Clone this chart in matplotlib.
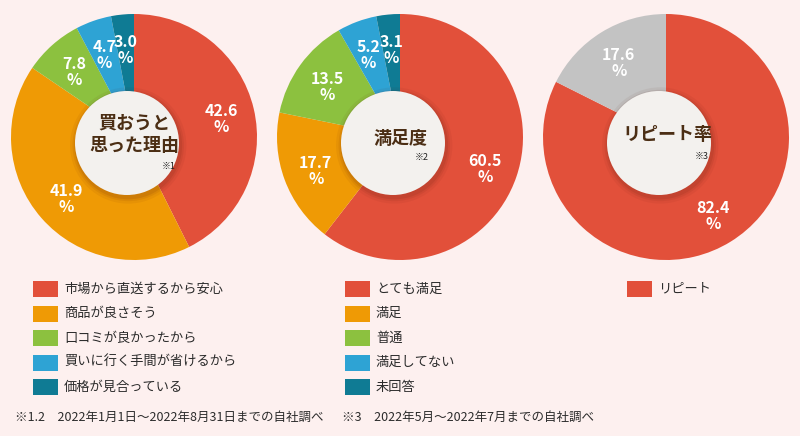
import matplotlib
matplotlib.use("Agg")
import numpy as np
from matplotlib import pyplot as plt
from matplotlib.patches import Circle, Rectangle

plt.rcParams["font.family"] = ["Noto Sans CJK JP", "DejaVu Sans"]

# data
reason_labels = ["市場から直送するから安心", "商品が良さそう", "口コミが良かったから",
                 "買いに行く手間が省けるから", "価格が見合っている"]
reason_values = [42.6, 41.9, 7.8, 4.7, 3.0]

satisf_labels = ["とても満足", "満足", "普通", "満足してない", "未回答"]
satisf_values = [60.5, 17.7, 13.5, 5.2, 3.1]

repeat_labels = ["リピート"]
repeat_values = [82.4, 17.6]

titles = ["買おうと\n思った理由", "満足度", "リピート率"]
notes = ["※1", "※2", "※3"]
footnotes = ["※1.2　2022年1月1日～2022年8月31日までの自社調べ",
             "※3　2022年5月～2022年7月までの自社調べ"]

colors5 = ["#e2503a", "#ef9a05", "#8cc13f", "#2ea3d4", "#0f7b94"]
colors2 = ["#e2503a", "#c3c3c3"]
bg = "#fdf0ef"
brown = "#4b2e14"

W, H = 800, 436
fig = plt.figure(figsize=(W / 100, H / 100), dpi=100, facecolor=bg)

centers = [(134, 137), (400, 137), (666, 137)]
R = 123
charts = [(reason_values, colors5), (satisf_values, colors5), (repeat_values, colors2)]
title_pos = [(0.0, 0.0), (0.0, -0.03), (0.01, 0.0)]
note_pos = [(0.28, -0.24), (0.18, -0.17), (0.29, -0.16)]

for i, ((vals, cols), (cx, cy)) in enumerate(zip(charts, centers)):
    ax = fig.add_axes([(cx - R) / W, 1 - (cy + R) / H, 2 * R / W, 2 * R / H])
    wedges, _ = ax.pie(vals, colors=cols, startangle=90, counterclock=False,
                       radius=1, wedgeprops=dict(linewidth=0))
    ax.set_xlim(-1, 1)
    ax.set_ylim(-1, 1)
    ax.set_aspect("equal")
    ax.axis("off")
    # percentage labels
    cum = np.cumsum([0] + list(vals))
    for k, v in enumerate(vals):
        mid = (cum[k] + v / 2) / 100 * 2 * np.pi
        r = 0.73
        ax.text(r * np.sin(mid), r * np.cos(mid) - 0.02, f"{v:.1f}\n%",
                ha="center", va="center", color="white", fontsize=11.5,
                fontweight="bold", linespacing=1.0)
    # inner white disc with soft shadow
    ox, oy, rr = -7 / R, -6 / R, 52 / R
    for s, a in [(0.05, 0.06), (0.03, 0.08), (0.015, 0.1)]:
        ax.add_patch(Circle((ox + 0.01, oy - 0.02), rr + s, color="#5a1a10",
                            alpha=a, linewidth=0, zorder=3))
    ax.add_patch(Circle((ox, oy), rr, color="#f3f1ee", linewidth=0, zorder=4))
    tx, ty = title_pos[i]
    ax.text(tx, ty + 0.02, titles[i], ha="center", va="center", color=brown,
            fontsize=13, fontweight="bold", linespacing=1.25, zorder=5)
    nx, ny = note_pos[i]
    ax.text(nx, ny, notes[i], ha="center", va="center", color="#222222",
            fontsize=6.5, zorder=5)

# legends and footnotes on a pixel-space overlay
ov = fig.add_axes([0, 0, 1, 1], zorder=10)
ov.set_xlim(0, W)
ov.set_ylim(H, 0)
ov.axis("off")
ov.patch.set_alpha(0)

legend_groups = [(reason_labels, colors5, 33), (satisf_labels, colors5, 345),
                 (repeat_labels, colors2, 627)]
row0, step = 289, 24.5
for labels, cols, x0 in legend_groups:
    for j, lab in enumerate(labels):
        y = row0 + j * step
        ov.add_patch(Rectangle((x0, y - 8), 25, 16, facecolor=cols[j],
                               edgecolor="none"))
        ov.text(x0 + 31, y, lab, ha="left", va="center", fontsize=9.5,
                color="#2b2b2b")

ov.text(15, 417, footnotes[0], ha="left", va="center", fontsize=9, color="#2b2b2b")
ov.text(342, 417, footnotes[1], ha="left", va="center", fontsize=9, color="#2b2b2b")

fig.savefig("out.png", dpi=100, facecolor=bg)
